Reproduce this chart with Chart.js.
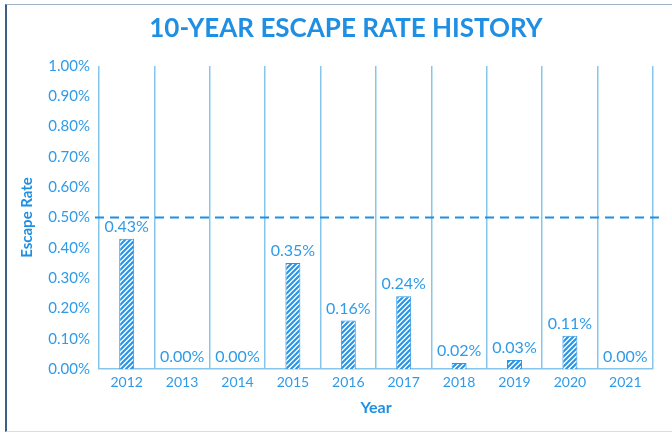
<!DOCTYPE html>
<html>
<head>
<meta charset="utf-8">
<script src="https://cdn.jsdelivr.net/npm/chart.js@4"></script>
<style>
  html, body { margin: 0; padding: 0; background: #fff; }
  .frame {
    position: absolute; left: 5px; top: 4px; width: 700px; height: 426px;
    border-left: 2px solid #3f5f80; border-top: 1.5px solid #9fb3c6;
    border-bottom: 1.5px solid #d5dde5;
  }
  .wrap { position: absolute; left: 0; top: 0; width: 672px; height: 434px; }
</style>
</head>
<body>
<div class="frame"></div>
<div class="wrap"><canvas id="chart" width="672" height="434"></canvas></div>
<script>
const chartTitle = '10-YEAR ESCAPE RATE HISTORY';
const years = ['2012', '2013', '2014', '2015', '2016', '2017', '2018', '2019', '2020', '2021'];
const escapeRates = [0.43, 0.00, 0.00, 0.35, 0.16, 0.24, 0.02, 0.03, 0.11, 0.00];
const targetRate = [0.50];

const blue = '#1f8fe3';
const lightBlue = '#86c6ee';

// hatch fill for the bars
function makeHatch() {
    const c = document.createElement('canvas');
    c.width = 5; c.height = 5;
    const g = c.getContext('2d');
    g.fillStyle = '#fff';
    g.fillRect(0, 0, 5, 5);
    g.strokeStyle = '#2a95e6';
    g.lineWidth = 2.2;
    g.beginPath();
    g.moveTo(-1, 6); g.lineTo(6, -1);
    g.moveTo(-1, 1); g.lineTo(1, -1);
    g.moveTo(4, 6); g.lineTo(6, 4);
    g.stroke();
    return g.createPattern(c, 'repeat');
}

// title drawn by hand so it can sit a bit right of centre like the original
const titleText = {
    id: 'titleText',
    afterDraw(chart) {
        const { ctx } = chart;
        ctx.save();
        ctx.fillStyle = blue;
        ctx.font = 'bold 26px Lato';
        ctx.textAlign = 'center';
        ctx.textBaseline = 'middle';
        ctx.fillText(chartTitle, chart.width / 2 + 10, 29);
        ctx.restore();
    }
};

// dashed 0.50% line
const targetLine = {
    id: 'targetLine',
    afterDatasetsDraw(chart) {
        const { ctx, chartArea, scales } = chart;
        const y = scales.y.getPixelForValue(targetRate[0]);
        ctx.save();
        ctx.strokeStyle = blue;
        ctx.lineWidth = 2;
        ctx.setLineDash([9, 6]);
        ctx.beginPath();
        ctx.moveTo(chartArea.left - 4, y);
        ctx.lineTo(chartArea.right + 12, y);
        ctx.stroke();
        ctx.restore();
    }
};

// value labels above bars
const valueLabels = {
    id: 'valueLabels',
    afterDatasetsDraw(chart) {
        const { ctx } = chart;
        const meta = chart.getDatasetMeta(0);
        ctx.save();
        ctx.fillStyle = '#2f9be8';
        ctx.font = '16px Lato';
        ctx.textAlign = 'center';
        ctx.textBaseline = 'bottom';
        meta.data.forEach((bar, i) => {
            ctx.fillText(escapeRates[i].toFixed(2) + '%', bar.x, bar.y - 4);
        });
        ctx.restore();
    }
};

new Chart(document.getElementById('chart'), {
    type: 'bar',
    data: {
        labels: years,
        datasets: [{
            data: escapeRates,
            backgroundColor: makeHatch(),
            borderColor: '#2a95e6',
            borderWidth: 1,
            categoryPercentage: 1,
            barPercentage: 0.27
        }]
    },
    options: {
        responsive: false,
        animation: false,
        layout: { padding: { top: 66, left: 14, right: 19, bottom: 13 } },
        plugins: {
            legend: { display: false },
            tooltip: { enabled: false }
        },
        scales: {
            x: {
                grid: { color: lightBlue, lineWidth: 1.5, drawTicks: false, offset: true },
                border: { color: lightBlue, width: 1.5 },
                ticks: { color: '#2f9be8', font: { family: 'Lato', size: 14 }, padding: 5 },
                title: {
                    display: true, text: 'Year', color: blue,
                    font: { family: 'Lato', size: 16, weight: 'bold' }, padding: { top: 2 }
                }
            },
            y: {
                min: 0,
                max: 1,
                grid: { display: false, drawTicks: false },
                border: { display: false },
                ticks: {
                    stepSize: 0.1,
                    color: '#2f9be8',
                    font: { family: 'Lato', size: 15 },
                    padding: 9,
                    callback: v => v.toFixed(2) + '%'
                },
                title: {
                    display: true, text: 'Escape Rate', color: blue,
                    font: { family: 'Lato', size: 15, weight: 'bold' }, padding: { bottom: 7 }
                },
                afterFit(scale) { scale.width = 85; }
            }
        }
    },
    plugins: [titleText, targetLine, valueLabels]
});
</script>
</body>
</html>
